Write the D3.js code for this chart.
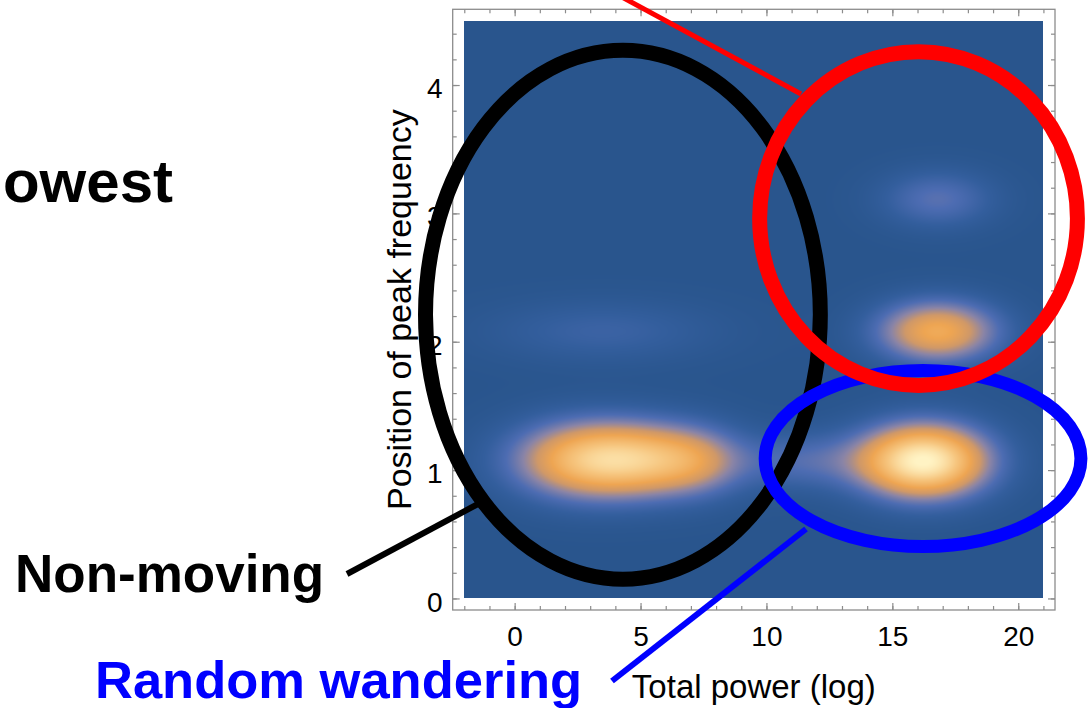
<!DOCTYPE html>
<html>
<head>
<meta charset="utf-8">
<script src="https://cdn.jsdelivr.net/npm/d3@7"></script>
<style>
  body { margin: 0; background: #fff; }
  svg { display: block; }
</style>
</head>
<body>
<div id="chart"></div>
<script>
// tick values
var xMajor = [0, 5, 10, 15, 20];
var yMajor = [0, 1, 2, 3, 4];
var xMinor = d3.range(-2, 22, 1);
var yMinor = d3.range(0, 4.6, 0.2);

// density blobs (data units)
var blobX      = [2.9, 5.4, 7.3, 11.5, 16.25, 16.8, 16.8, 3.5];
var blobY      = [1.08, 1.08, 1.07, 1.07, 1.07, 2.08, 3.11, 2.08];
var blobWeight = [0.66, 0.42, 0.25, 0.18, 1.00, 0.58, 0.20, 0.11];
var blobSx     = [2.0, 1.8, 1.3, 2.0, 1.7, 1.6, 1.5, 3.0];
var blobSy     = [0.2, 0.19, 0.18, 0.15, 0.19, 0.16, 0.15, 0.16];

// plotted region of the density
var densX = [-2, 21];
var densY = [0, 4.5];

// colour ramp
var colorStops = [0, 0.08, 0.18, 0.3, 0.42, 0.55, 0.75, 1];
var colorRange = ["#29558d", "#335e9d", "#4d6cb2", "#8a84a6", "#cf9868", "#eea552", "#f6c57e", "#fff3c4"];

// annotation ellipses (centre / radii in data units)
var ringNames = ["black", "blue", "red"];
var ringX  = [4.3, 16.22, 16.04];
var ringY  = [2.21, 1.09, 2.96];
var ringRx = [7.84, 6.27, 6.31];
var ringRy = [2.06, 0.685, 1.30];

var W = 1091, H = 708;

var svg = d3.select("#chart")
    .append("svg")
    .attr("width", W)
    .attr("height", H);

var x = d3.scaleLinear().domain([-2.46, 21.46]).range([452.7, 1055]);
var y = d3.scaleLinear().domain([-0.09, 4.59]).range([610, 9.3]);

var color = d3.scaleLinear()
    .domain(colorStops)
    .range(colorRange)
    .interpolate(d3.interpolateRgb)
    .clamp(true);

// density raster
var px0 = Math.round(x(densX[0])), px1 = Math.round(x(densX[1]));
var py0 = Math.round(y(densY[1])), py1 = Math.round(y(densY[0]));
var cw = px1 - px0, ch = py1 - py0;

var canvas = document.createElement("canvas");
canvas.width = cw;
canvas.height = ch;
var ctx = canvas.getContext("2d");
var img = ctx.createImageData(cw, ch);

for (var j = 0; j < ch; j++) {
    var dy = y.invert(py0 + j + 0.5);
    for (var i = 0; i < cw; i++) {
        var dx = x.invert(px0 + i + 0.5);
        var v = 0;
        for (var k = 0; k < blobX.length; k++) {
            var a = (dx - blobX[k]) / blobSx[k];
            var b = (dy - blobY[k]) / blobSy[k];
            v += blobWeight[k] * Math.exp(-0.5 * (a * a + b * b));
        }
        var c = d3.rgb(color(v));
        var p = (j * cw + i) * 4;
        img.data[p] = c.r;
        img.data[p + 1] = c.g;
        img.data[p + 2] = c.b;
        img.data[p + 3] = 255;
    }
}
ctx.putImageData(img, 0, 0);

svg.append("image")
    .attr("x", px0)
    .attr("y", py0)
    .attr("width", cw)
    .attr("height", ch)
    .attr("href", canvas.toDataURL());

// frame
var frameColor = "#8c8c8c";
svg.append("rect")
    .attr("x", x.range()[0])
    .attr("y", y.range()[1])
    .attr("width", x.range()[1] - x.range()[0])
    .attr("height", y.range()[0] - y.range()[1])
    .attr("fill", "none")
    .attr("stroke", frameColor)
    .attr("stroke-width", 1.3);

function styleAxis(g) {
    g.select(".domain").remove();
    g.selectAll(".tick line").attr("stroke", frameColor).attr("stroke-width", 1.2);
    g.selectAll("text")
        .attr("fill", "#000")
        .style("font-family", "'Liberation Sans', Arial, sans-serif")
        .style("font-size", "28px");
}

// minor ticks on all four sides
svg.append("g").attr("transform", "translate(0," + y.range()[0] + ")")
    .call(d3.axisBottom(x).tickValues(xMinor).tickSize(-4).tickFormat("")).call(styleAxis);
svg.append("g").attr("transform", "translate(0," + y.range()[1] + ")")
    .call(d3.axisTop(x).tickValues(xMinor).tickSize(-4).tickFormat("")).call(styleAxis);
svg.append("g").attr("transform", "translate(" + x.range()[0] + ",0)")
    .call(d3.axisLeft(y).tickValues(yMinor).tickSize(-4).tickFormat("")).call(styleAxis);
svg.append("g").attr("transform", "translate(" + x.range()[1] + ",0)")
    .call(d3.axisRight(y).tickValues(yMinor).tickSize(-4).tickFormat("")).call(styleAxis);

// major ticks with labels
svg.append("g").attr("transform", "translate(0," + y.range()[0] + ")")
    .call(d3.axisBottom(x).tickValues(xMajor).tickSize(-7).tickPadding(16).tickFormat(d3.format("d"))).call(styleAxis);
svg.append("g").attr("transform", "translate(0," + y.range()[1] + ")")
    .call(d3.axisTop(x).tickValues(xMajor).tickSize(-7).tickFormat("")).call(styleAxis);
svg.append("g").attr("transform", "translate(" + x.range()[0] + ",0)")
    .call(d3.axisLeft(y).tickValues(yMajor).tickSize(-7).tickPadding(10).tickFormat(d3.format("d"))).call(styleAxis)
    .selectAll("text").attr("dy", "0.45em");
svg.append("g").attr("transform", "translate(" + x.range()[1] + ",0)")
    .call(d3.axisRight(y).tickValues(yMajor).tickSize(-7).tickFormat("")).call(styleAxis);

// axis titles
svg.append("text")
    .attr("x", (x.range()[0] + x.range()[1]) / 2)
    .attr("y", 698)
    .attr("text-anchor", "middle")
    .style("font-family", "'Liberation Sans', Arial, sans-serif")
    .style("font-size", "33px")
    .attr("fill", "#000")
    .text("Total power (log)");

svg.append("text")
    .attr("transform", "translate(411," + (y.range()[0] + y.range()[1]) / 2 + ") rotate(-90)")
    .attr("text-anchor", "middle")
    .style("font-family", "'Liberation Sans', Arial, sans-serif")
    .style("font-size", "34px")
    .attr("fill", "#000")
    .text("Position of peak frequency");

// annotation rings
var ringStroke = { black: "#000", blue: "#0000ff", red: "#ff0000" };
var ringWidth = { black: 15, blue: 13, red: 15 };
svg.selectAll("ellipse.ring")
    .data(ringNames)
    .enter().append("ellipse")
    .attr("class", "ring")
    .attr("cx", function(d, i) { return x(ringX[i]); })
    .attr("cy", function(d, i) { return y(ringY[i]); })
    .attr("rx", function(d, i) { return x(ringX[i] + ringRx[i]) - x(ringX[i]); })
    .attr("ry", function(d, i) { return y(ringY[i]) - y(ringY[i] + ringRy[i]); })
    .attr("fill", "none")
    .attr("stroke", function(d) { return ringStroke[d]; })
    .attr("stroke-width", function(d) { return ringWidth[d]; });

// leader lines
svg.append("line")
    .attr("x1", 620).attr("y1", -4).attr("x2", 801).attr("y2", 94)
    .attr("stroke", "#ff0000").attr("stroke-width", 5);
svg.append("line")
    .attr("x1", 347).attr("y1", 574).attr("x2", 478).attr("y2", 504)
    .attr("stroke", "#000").attr("stroke-width", 6);
svg.append("line")
    .attr("x1", 612).attr("y1", 681).attr("x2", 806).attr("y2", 529)
    .attr("stroke", "#0000ff").attr("stroke-width", 6);

// callout texts
var bold = "'Liberation Sans', Arial, sans-serif";
svg.append("text")
    .attr("x", 173).attr("y", 202)
    .attr("text-anchor", "end")
    .style("font-family", bold).style("font-weight", "bold").style("font-size", "60px")
    .attr("fill", "#000")
    .text("owest");
svg.append("text")
    .attr("x", 15).attr("y", 592)
    .style("font-family", bold).style("font-weight", "bold").style("font-size", "53px")
    .attr("fill", "#000")
    .text("Non-moving");
svg.append("text")
    .attr("x", 95).attr("y", 698)
    .style("font-family", bold).style("font-weight", "bold").style("font-size", "52.5px")
    .attr("fill", "#0000ff")
    .text("Random wandering");
</script>
</body>
</html>
